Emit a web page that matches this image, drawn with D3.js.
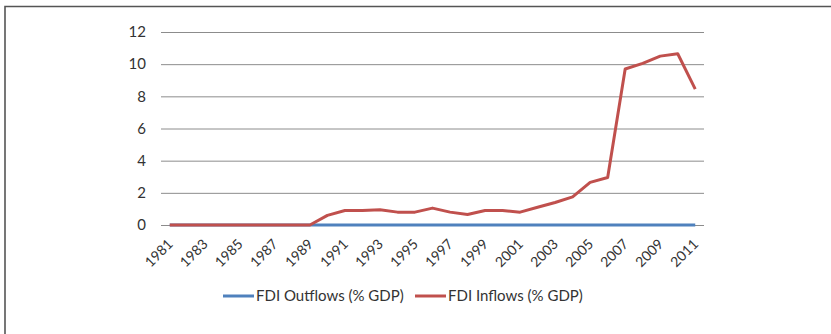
<!DOCTYPE html>
<html>
<head>
<meta charset="utf-8">
<script src="https://cdn.jsdelivr.net/npm/d3@7"></script>
<style>
  html, body { margin: 0; padding: 0; background: #fff; }
  svg { display: block; }
  text { font-family: Lato, "Open Sans", "Liberation Sans", sans-serif; fill: #333; }
</style>
</head>
<body>
<script>
// FDI flows as a share of GDP, 1981–2011
const years = d3.range(1981, 2012);
const outflows = [0,0,0,0,0,0,0,0,0,0,0,0,0,0,0,0,0,0,0,0,0,0,0,0,0,0,0,0,0,0,0];
const inflows = [0,0,0,0,0,0,0,0,0,0.6,0.9,0.9,0.95,0.8,0.8,1.05,0.8,0.65,0.9,0.9,0.8,1.1,1.4,1.75,2.65,2.95,9.7,10.05,10.5,10.65,8.45];
const yTicks = [0, 2, 4, 6, 8, 10, 12];
const seriesNames = ["FDI Outflows (% GDP)", "FDI Inflows (% GDP)"];
const seriesColors = ["#4F81BD", "#C0504D"];

const W = 831, H = 334;
const plot = { left: 161, right: 704, top: 32, bottom: 225 };

const svg = d3.select("body").append("svg").attr("width", W).attr("height", H);

// outer frame (left and top edges only are visible)
svg.append("path")
  .attr("d", `M5,${H} V6.5 H${W}`)
  .attr("fill", "none").attr("stroke", "#555").attr("stroke-width", 1.6);

const x = d3.scaleBand().domain(years).range([plot.left, plot.right]);
const y = d3.scaleLinear().domain([0, 12]).range([plot.bottom, plot.top]);
const cx = d => x(d) + x.bandwidth() / 2;

// horizontal gridlines + y labels
const yAxis = d3.axisLeft(y).tickValues(yTicks).tickSize(-(plot.right - plot.left)).tickPadding(15);
const gy = svg.append("g").attr("transform", `translate(${plot.left},0)`).call(yAxis);
gy.select(".domain").remove();
gy.selectAll(".tick line").attr("stroke", "#8c8c8c").attr("stroke-width", 1);
gy.selectAll(".tick text").attr("font-size", 15).style("fill", "#333");

// x labels, every other year, rotated
const xAxis = d3.axisBottom(x).tickValues(years.filter((d, i) => i % 2 === 0)).tickSize(0).tickPadding(0);
const gx = svg.append("g").attr("transform", `translate(0,${plot.bottom})`).call(xAxis);
gx.select(".domain").remove();
gx.selectAll(".tick text")
  .attr("font-size", 14)
  .style("fill", "#333")
  .attr("text-anchor", "end")
  .attr("dy", 0)
  .attr("transform", "translate(4,20) rotate(-45)");

// series lines
const line = d3.line().x((d, i) => cx(years[i])).y(d => y(d));
[outflows, inflows].forEach((vals, k) => {
  svg.append("path")
    .datum(vals)
    .attr("d", line)
    .attr("fill", "none")
    .attr("stroke", seriesColors[k])
    .attr("stroke-width", 3)
    .attr("stroke-linejoin", "round");
});

// legend
const legendX = [223, 415];
const legendY = 296;
seriesNames.forEach((name, k) => {
  const g = svg.append("g").attr("transform", `translate(${legendX[k]},${legendY})`);
  g.append("line").attr("x1", 0).attr("x2", 31).attr("y1", 0).attr("y2", 0)
    .attr("stroke", seriesColors[k]).attr("stroke-width", 3);
  g.append("text").attr("x", 33).attr("y", 0).attr("dy", "0.35em")
    .attr("font-size", 15).style("fill", "#333").text(name);
});
</script>
</body>
</html>
